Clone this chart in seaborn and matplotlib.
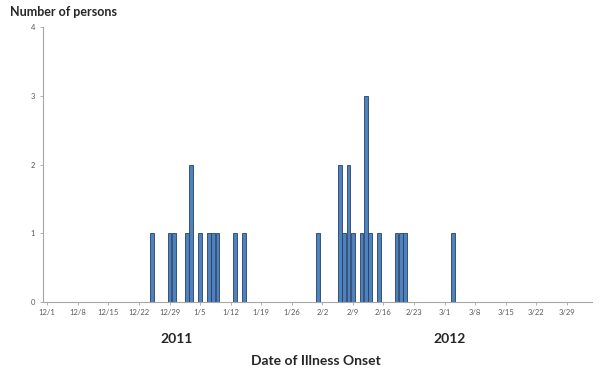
import matplotlib
matplotlib.use("Agg")
import numpy as np
import pandas as pd
import matplotlib.pyplot as plt
import seaborn as sns

# cases by date of illness onset
onset_dates = ["2011-12-25", "2011-12-29", "2011-12-30", "2012-01-02", "2012-01-03",
               "2012-01-05", "2012-01-07", "2012-01-08", "2012-01-09", "2012-01-13",
               "2012-01-15", "2012-02-01", "2012-02-06", "2012-02-07", "2012-02-08",
               "2012-02-09", "2012-02-11", "2012-02-12", "2012-02-13", "2012-02-15",
               "2012-02-19", "2012-02-20", "2012-02-21", "2012-03-03"]
cases = [1, 1, 1, 1, 2,
         1, 1, 1, 1, 1,
         1, 1, 2, 1, 2,
         1, 1, 3, 1, 1,
         1, 1, 1, 1]
tick_labels = ["12/1", "12/8", "12/15", "12/22", "12/29", "1/5", "1/12", "1/19", "1/26",
               "2/2", "2/9", "2/16", "2/23", "3/1", "3/8", "3/15", "3/22", "3/29"]
y_ticks = [0, 1, 2, 3, 4]

start = pd.Timestamp("2011-12-01")
df = pd.DataFrame({"onset": pd.to_datetime(onset_dates), "cases": cases})
df["day"] = (df["onset"] - start).dt.days

sns.set_style("white")
plt.rcParams["font.family"] = ["Lato", "DejaVu Sans"]

fig = plt.figure(figsize=(6, 3.78), dpi=100)
ax = fig.add_axes([0.0722, 0.2018, 0.9140, 0.7260])

sns.barplot(data=df, x="day", y="cases", native_scale=True, width=0.85,
            color="#4F81BD", saturation=1, edgecolor="#24416B", linewidth=0.6, ax=ax)

tick_days = np.arange(len(tick_labels)) * 7
ax.set_xticks(tick_days)
ax.set_xticklabels(tick_labels)
ax.set_xlim(-0.9, 124.7)
ax.set_ylim(0, 4)
ax.set_yticks(y_ticks)
ax.set_xlabel("")
ax.set_ylabel("")

for s in ["top", "right"]:
    ax.spines[s].set_visible(False)
for s in ["left", "bottom"]:
    ax.spines[s].set_color("#A6A6A6")
    ax.spines[s].set_linewidth(0.8)
ax.tick_params(axis="both", labelsize=5.5, colors="#A6A6A6", labelcolor="#595959",
               length=2.5, width=0.6, direction="out", bottom=True, left=True)
ax.tick_params(axis="x", pad=3)

fig.text(10 / 600, 1 - 12 / 378, "Number of persons", fontsize=9, fontweight="bold",
         ha="left", va="center")
fig.text(177 / 600, 1 - 339 / 378, "2011", fontsize=10, fontweight="bold",
         ha="center", va="center")
fig.text(450 / 600, 1 - 339 / 378, "2012", fontsize=10, fontweight="bold",
         ha="center", va="center")
fig.text(316 / 600, 1 - 361 / 378, "Date of Illness Onset", fontsize=10, fontweight="bold",
         ha="center", va="center")

fig.savefig("out.png", dpi=100)
